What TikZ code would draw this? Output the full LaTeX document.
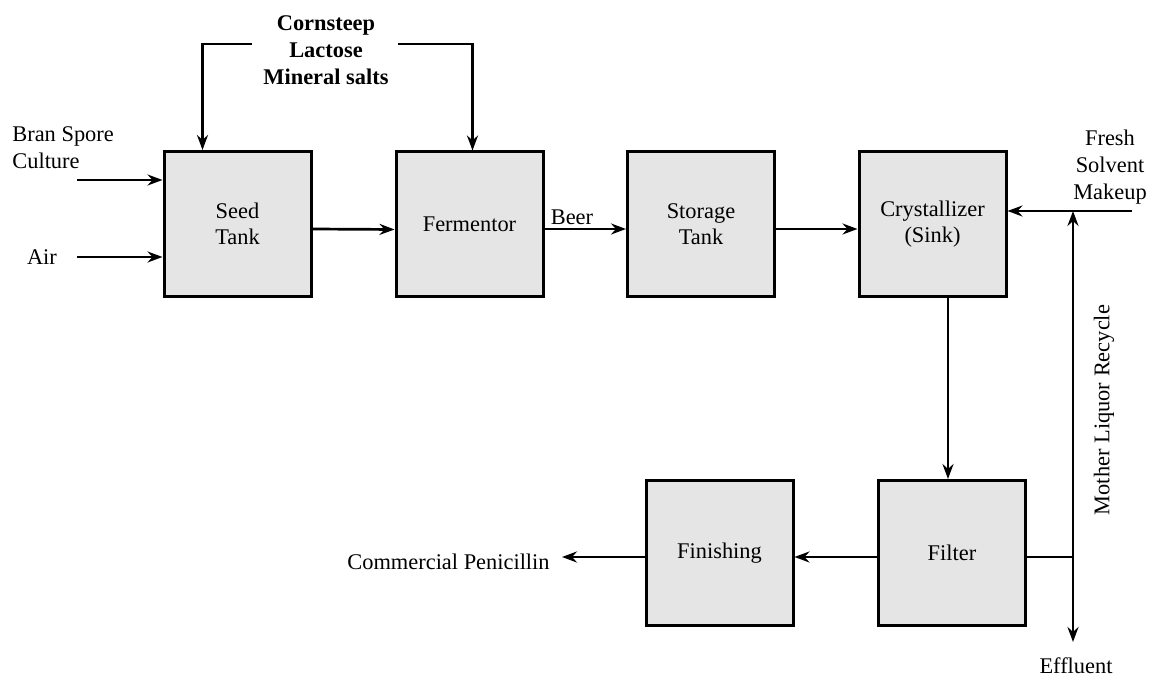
\documentclass[tikz,border=0pt]{standalone}
\usepackage{fontspec}
\setmainfont{Liberation Serif}
\usetikzlibrary{arrows.meta,calc}
\definecolor{boxgray}{HTML}{E5E5E5}
\tikzset{
  unit/.style={draw=black, line width=1.5pt, fill=boxgray, minimum width=73.5pt, minimum height=72.5pt, align=center, inner sep=0pt},
  arr/.style={line width=1.35pt, -{Stealth[length=7.5pt,width=5.5pt,inset=2.5pt]}},
  plain/.style={line width=1.35pt},
  lbl/.style={align=center, inner sep=0pt, font=\fontsize{11.2}{13.5}\selectfont},
}
\begin{document}
\begin{tikzpicture}[x=0.5pt,y=-0.5pt]
\useasboundingbox (0,0) rectangle (1153,678);
\begin{scope}[font=\fontsize{11.2}{13}\selectfont]
\node[unit] (seed)   at (237.5,224) {Seed\\Tank};
\node[unit] (ferm)   at (469.5,224.5) {Fermentor};
\node[unit] (stor)   at (701,224.5) {Storage\\Tank};
\node[unit] (cryst)  at (932.5,224.5) {Crystallizer\\(Sink)};
\node[unit] (filter) at (952,553) {Filter};
\node[unit] (finish) at (719.5,553) {Finishing};
\end{scope}

% labels
\node[lbl, align=left, anchor=north west] (bran) at (12,126) {Bran Spore\\Culture};
\node[lbl] (air) at (42,257) {Air};
\node[lbl, font=\bfseries\fontsize{11.2}{13.5}\selectfont] (feed) at (326,50) {Cornsteep\\Lactose\\Mineral salts};
\node[lbl] (beer) at (572,217) {Beer};
\node[lbl] (fresh) at (1110,167) {Fresh\\Solvent\\Makeup};
\node[lbl, rotate=90] (mlr) at (1104,410) {Mother Liquor Recycle};
\node[lbl] (eff) at (1076,666) {Effluent};
\node[lbl, anchor=east] (comm) at (550,562) {Commercial Penicillin};

% coordinates
\coordinate (branS) at (77,180);
\coordinate (airS) at (77,257);
\coordinate (feedL) at (252,44);
\coordinate (feedR) at (398,44);
\coordinate (freshS) at (1132,211);
\coordinate (J) at (1073,557);
\coordinate (T) at (1073,211);
\coordinate (effE) at (1073,642);
\coordinate (penE) at (562,557);
\coordinate (cf) at (948,297);

% feeds into seed tank
\draw[arr] (branS) -- (branS -| seed.west);
\draw[arr] (airS) -- (airS -| seed.west);
\draw[arr] (feedL) -| ($(seed.north west)+(40,0)$);
\draw[arr] (feedR) -| ($(ferm.north west)+(78,0)$);

% main line
\draw[arr] ($(seed.east)+(0,5)$) -- ($(ferm.west)+(0,5)$);
\draw[arr] ($(ferm.east)+(0,4.5)$) -- ($(stor.west)+(0,4.5)$);
\draw[arr] ($(stor.east)+(0,4.5)$) -- ($(cryst.west)+(0,4.5)$);

% solvent and recycle
\draw[arr] (freshS) -- (freshS -| cryst.east);
\draw[arr] (J) -- (T);
\draw[arr] (J) -- (effE);
\draw[plain] (J -| filter.east) -- (J);

% crystallizer to filter
\draw[arr] (cf |- cryst.south) -- (cf |- filter.north);

% filter to finishing to product
\draw[arr] (J -| filter.west) -- (J -| finish.east);
\draw[arr] (J -| finish.west) -- (penE);
\end{tikzpicture}
\end{document}
